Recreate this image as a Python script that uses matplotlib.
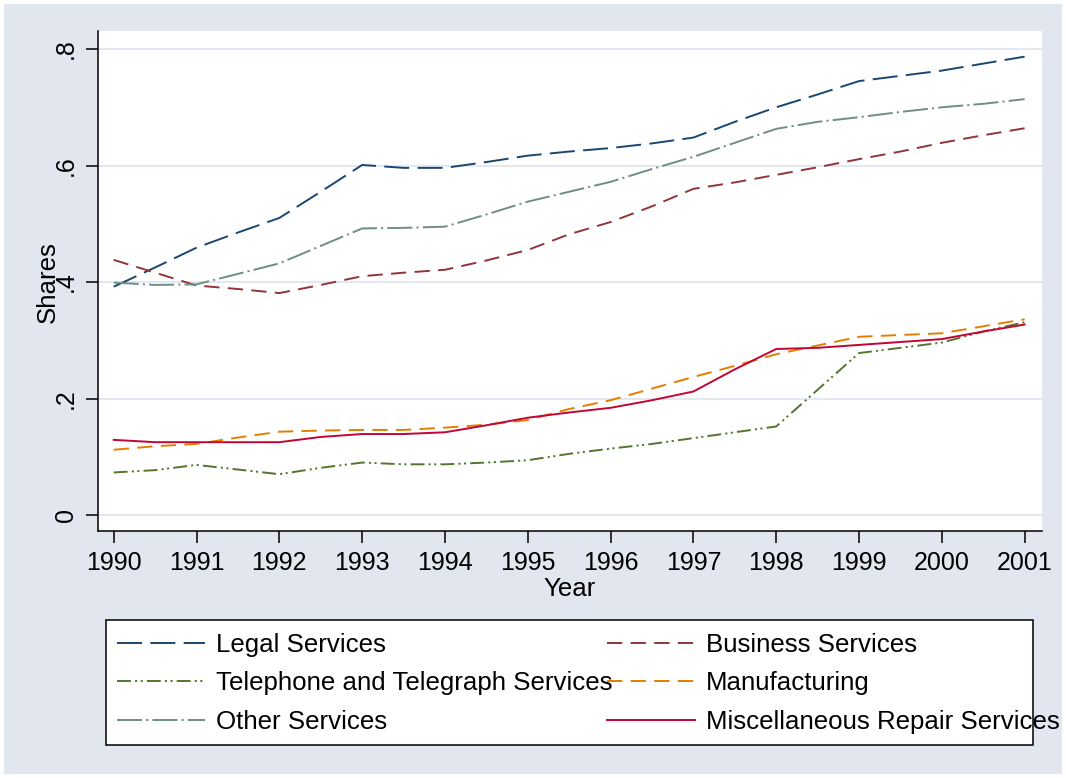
import matplotlib
matplotlib.use("Agg")
import matplotlib.pyplot as plt
from matplotlib.patches import Rectangle

plt.rcParams['font.family'] = ['Liberation Sans', 'DejaVu Sans']
plt.rcParams['lines.scale_dashes'] = False

years = [1990, 1990.5, 1991, 1991.5, 1992, 1992.5, 1993, 1993.5, 1994, 1994.5,
         1995, 1995.5, 1996, 1996.5, 1997, 1997.5, 1998, 1998.5, 1999, 1999.5,
         2000, 2000.5, 2001]

legal = [0.392, 0.425, 0.459, 0.485, 0.510, 0.555, 0.601, 0.596, 0.596, 0.606,
         0.617, 0.624, 0.630, 0.638, 0.648, 0.675, 0.700, 0.722, 0.745, 0.754,
         0.763, 0.775, 0.787]
business = [0.438, 0.416, 0.394, 0.388, 0.381, 0.395, 0.410, 0.416, 0.421, 0.437,
            0.455, 0.482, 0.503, 0.530, 0.560, 0.571, 0.584, 0.597, 0.611, 0.624,
            0.639, 0.652, 0.664]
telephone = [0.073, 0.077, 0.086, 0.078, 0.070, 0.081, 0.090, 0.087, 0.087, 0.090,
             0.094, 0.105, 0.114, 0.122, 0.132, 0.142, 0.152, 0.215, 0.278, 0.287,
             0.296, 0.315, 0.331]
manufacturing = [0.112, 0.118, 0.122, 0.133, 0.143, 0.145, 0.146, 0.146, 0.150, 0.155,
                 0.163, 0.182, 0.197, 0.217, 0.237, 0.256, 0.276, 0.291, 0.306, 0.309,
                 0.312, 0.324, 0.336]
other = [0.399, 0.395, 0.396, 0.414, 0.432, 0.462, 0.492, 0.493, 0.495, 0.516,
         0.538, 0.555, 0.572, 0.594, 0.615, 0.639, 0.663, 0.675, 0.683, 0.692,
         0.700, 0.706, 0.714]
misc = [0.129, 0.125, 0.125, 0.125, 0.125, 0.134, 0.139, 0.139, 0.142, 0.154,
        0.167, 0.176, 0.184, 0.197, 0.212, 0.250, 0.285, 0.287, 0.292, 0.297,
        0.302, 0.315, 0.327]

labels = ["Legal Services", "Business Services", "Telephone and Telegraph Services",
          "Manufacturing", "Other Services", "Miscellaneous Repair Services"]
xticks = [1990, 1991, 1992, 1993, 1994, 1995, 1996, 1997, 1998, 1999, 2000, 2001]
yticks = [0, 0.2, 0.4, 0.6, 0.8]
ytick_labels = ["0", ".2", ".4", ".6", ".8"]

FS = 18
LFS = 18.6
BG = "#E1E6EF"
W, H = 1066, 778
fig = plt.figure(figsize=(W / 100, H / 100), dpi=100)
fig.patch.set_facecolor("white")
fig.add_artist(Rectangle((4 / W, 4 / H), (W - 8) / W, (H - 8) / H,
                         transform=fig.transFigure, facecolor=BG, edgecolor="none", zorder=0))

ax = fig.add_axes([98 / W, 1 - 531 / H, (1042 - 98) / W, (531 - 31) / H])
ax.set_facecolor("white")
ax.set_xlim(1989.81, 2001.21)
ax.set_ylim(-0.0275, 0.831)

lw = 1.4
styles = [
    dict(color="#1a476f", dashes=(18, 6)),
    dict(color="#90353b", dashes=(11, 6)),
    dict(color="#55752f", dashes=(10, 3, 1.5, 2.5, 1.5, 3)),
    dict(color="#e37e00", dashes=(11, 6)),
    dict(color="#6e8e84", dashes=(18, 3, 1.5, 3)),
    dict(color="#c10534", linestyle="-"),
]
series = [legal, business, telephone, manufacturing, other, misc]
handles = []
for s, st, lab in zip(series, styles, labels):
    h, = ax.plot(years, s, lw=lw, label=lab, zorder=3, **st)
    handles.append(h)

ax.set_yticks(yticks)
ax.set_yticklabels(ytick_labels, rotation=90, va="center")
ax.set_xticks(xticks)
ax.set_xticklabels([str(x) for x in xticks])
ax.tick_params(axis="both", direction="out", length=8.5, width=1.1, labelsize=FS,
               color="black", labelcolor="black")
ax.tick_params(axis="y", pad=6)
ax.tick_params(axis="x", pad=6)
ax.grid(axis="y", color=BG, lw=1.3, zorder=1)
ax.set_axisbelow(True)
for side in ["top", "right"]:
    ax.spines[side].set_visible(False)
for side in ["left", "bottom"]:
    ax.spines[side].set_linewidth(1.1)
    ax.spines[side].set_color("black")

fig.text(570 / W, 1 - 589 / H, "Year", ha="center", va="center", fontsize=LFS)
fig.text(48 / W, 1 - 282 / H, "Shares", ha="center", va="center", rotation=90, fontsize=LFS)

# legend frame
fig.add_artist(Rectangle((106 / W, 1 - 745 / H), (1033 - 106) / W, (745 - 620) / H,
                         transform=fig.transFigure, facecolor="white", edgecolor="black",
                         lw=1.1, zorder=1))

common = dict(loc="upper left", frameon=False, fontsize=LFS, handlelength=3.41,
              handletextpad=0.425, borderpad=0, borderaxespad=0, labelspacing=0.56)
leg1 = fig.legend([handles[0], handles[2], handles[4]], [labels[0], labels[2], labels[4]],
                  bbox_to_anchor=(117 / W, 1 - 633 / H), **common)
leg2 = fig.legend([handles[1], handles[3], handles[5]], [labels[1], labels[3], labels[5]],
                  bbox_to_anchor=(607 / W, 1 - 633 / H), **common)
for lg in (leg1, leg2):
    lg.set_zorder(5)

fig.savefig("out.png", dpi=100, facecolor=fig.get_facecolor())
